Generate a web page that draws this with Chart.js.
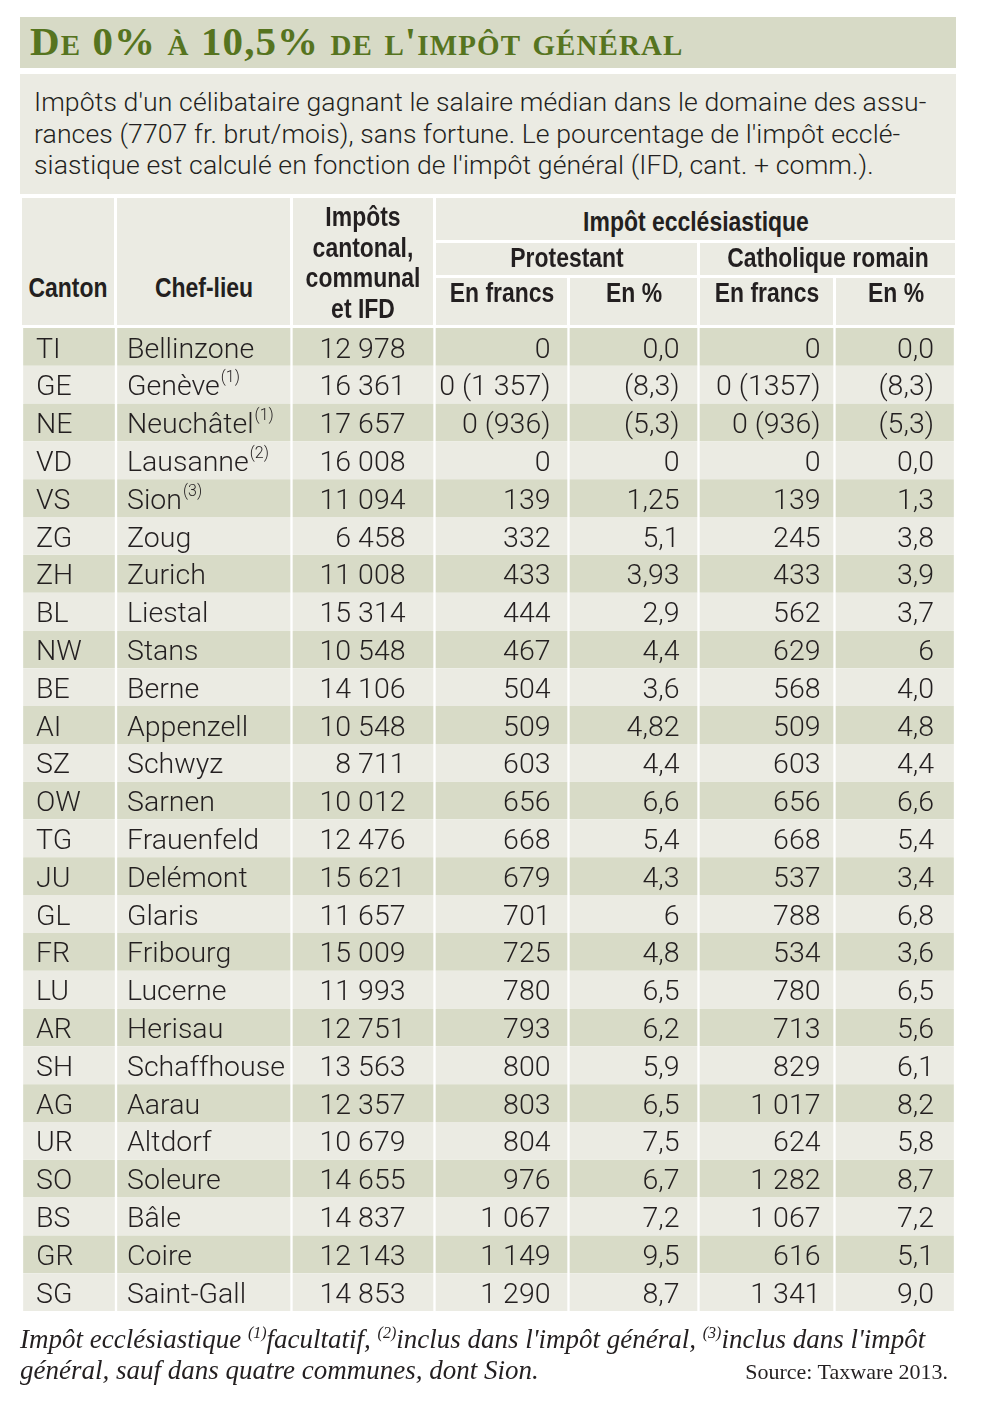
<!DOCTYPE html>
<html lang="fr">
<head>
<meta charset="utf-8">
<script src="https://cdn.jsdelivr.net/npm/chart.js@4.4.1/dist/chart.umd.min.js"></script>
<style>
  html,body{margin:0;padding:0;background:#fff;}
  body{width:1000px;height:1407px;position:relative;overflow:hidden;}
  #wrap{position:absolute;left:0;top:0;width:1000px;height:1407px;}
  canvas{position:absolute;left:0;top:0;}
  .box{position:absolute;box-sizing:border-box;}
  .title{left:20px;top:17px;width:936px;height:51px;background:#d7dac6;}
  .title span{position:absolute;left:10px;top:0px;font-family:"Liberation Serif","DejaVu Serif",serif;font-weight:bold;font-variant:small-caps;font-size:41px;color:#56741f;letter-spacing:1.1px;white-space:nowrap;}
  .desc{left:20px;top:74px;width:936px;height:120px;background:#ebebe3;}
  .desc div{position:absolute;left:14px;top:12px;font-family:Roboto,"Noto Sans",sans-serif;font-weight:300;font-size:26.6px;line-height:31.5px;color:#231f20;white-space:nowrap;letter-spacing:0.1px;}
  .h{position:absolute;box-sizing:border-box;background:#ebebe3;}
  .h span{position:absolute;left:50%;font-family:"Liberation Sans",Arial,sans-serif;font-weight:bold;font-size:27px;line-height:30.5px;color:#231f20;text-align:center;white-space:nowrap;transform:translate(-50%,-50%) scaleX(0.85);}
  .foot{position:absolute;left:20px;top:1324px;font-family:"Liberation Serif","DejaVu Serif",serif;font-style:italic;font-size:27px;line-height:31px;color:#231f20;white-space:nowrap;}
  .foot sup{font-size:16px;vertical-align:10px;line-height:0;}
  .src{position:absolute;right:52px;top:1359px;font-family:"Liberation Serif","DejaVu Serif",serif;font-size:22px;color:#231f20;white-space:nowrap;}
</style>
</head>
<body>
<div id="wrap">
  <canvas id="c" width="1000" height="1407"></canvas>
  <div class="box title"><span>De 0% à 10,5% de l'impôt général</span></div>
  <div class="box desc"><div>Impôts d'un célibataire gagnant le salaire médian dans le domaine des assu-<br>rances (7707 fr. brut/mois), sans fortune. Le pourcentage de l'impôt ecclé-<br>siastique est calculé en fonction de l'impôt général (IFD, cant. + comm.).</div></div>

  <div class="h" style="left:22px;top:198px;width:92px;height:127px;"><span style="top:90px;">Canton</span></div>
  <div class="h" style="left:117px;top:198px;width:173px;height:127px;"><span style="top:90px;">Chef-lieu</span></div>
  <div class="h" style="left:293px;top:198px;width:140px;height:127px;"><span style="top:65px;">Impôts<br>cantonal,<br>communal<br>et IFD</span></div>
  <div class="h" style="left:436px;top:198px;width:519px;height:42px;"><span style="top:24px;">Impôt ecclésiastique</span></div>
  <div class="h" style="left:436px;top:243px;width:261px;height:32px;"><span style="top:15px;">Protestant</span></div>
  <div class="h" style="left:700px;top:243px;width:255px;height:32px;"><span style="top:15px;">Catholique romain</span></div>
  <div class="h" style="left:436px;top:278px;width:131px;height:47px;"><span style="top:15px;">En francs</span></div>
  <div class="h" style="left:570px;top:278px;width:127px;height:47px;"><span style="top:15px;">En %</span></div>
  <div class="h" style="left:700px;top:278px;width:133px;height:47px;"><span style="top:15px;">En francs</span></div>
  <div class="h" style="left:836px;top:278px;width:119px;height:47px;"><span style="top:15px;">En %</span></div>

  <div class="foot">Impôt ecclésiastique <sup>(1)</sup>facultatif, <sup>(2)</sup>inclus dans l'impôt général, <sup>(3)</sup>inclus dans l'impôt<br>général, sauf dans quatre communes, dont Sion.</div>
  <div class="src">Source: Taxware 2013.</div>
</div>
<script>
// ---- DATA ----
const cantons = ["TI","GE","NE","VD","VS","ZG","ZH","BL","NW","BE","AI","SZ","OW","TG","JU","GL","FR","LU","AR","SH","AG","UR","SO","BS","GR","SG"];
const chefLieux = ["Bellinzone","Genève","Neuchâtel","Lausanne","Sion","Zoug","Zurich","Liestal","Stans","Berne","Appenzell","Schwyz","Sarnen","Frauenfeld","Delémont","Glaris","Fribourg","Lucerne","Herisau","Schaffhouse","Aarau","Altdorf","Soleure","Bâle","Coire","Saint-Gall"];
const notes = ["","(1)","(1)","(2)","(3)","","","","","","","","","","","","","","","","","","","","",""];
const impotsGeneral = ["12 978","16 361","17 657","16 008","11 094","6 458","11 008","15 314","10 548","14 106","10 548","8 711","10 012","12 476","15 621","11 657","15 009","11 993","12 751","13 563","12 357","10 679","14 655","14 837","12 143","14 853"];
const protFrancs = ["0","0 (1 357)","0 (936)","0","139","332","433","444","467","504","509","603","656","668","679","701","725","780","793","800","803","804","976","1 067","1 149","1 290"];
const protPct = ["0,0","(8,3)","(5,3)","0","1,25","5,1","3,93","2,9","4,4","3,6","4,82","4,4","6,6","5,4","4,3","6","4,8","6,5","6,2","5,9","6,5","7,5","6,7","7,2","9,5","8,7"];
const cathFrancs = ["0","0 (1357)","0 (936)","0","139","245","433","562","629","568","509","603","656","668","537","788","534","780","713","829","1 017","624","1 282","1 067","616","1 341"];
const cathPct = ["0,0","(8,3)","(5,3)","0,0","1,3","3,8","3,9","3,7","6","4,0","4,8","4,4","6,6","5,4","3,4","6,8","3,6","6,5","5,6","6,1","8,2","5,8","8,7","7,2","5,1","9,0"];

// ---- LAYOUT (column widths in table units, text alignment) ----
const columns = [
  {values: cantons,       width: 94,    align: "left",  pad: 14},
  {values: chefLieux,     width: 175.5, align: "left",  pad: 11, notes: notes},
  {values: impotsGeneral, width: 143,   align: "right", pad: 29},
  {values: protFrancs,    width: 134,   align: "right", pad: 18},
  {values: protPct,       width: 130,   align: "right", pad: 19},
  {values: cathFrancs,    width: 136,   align: "right", pad: 14},
  {values: cathPct,       width: 120.5, align: "right", pad: 21}
];
const darkRow = "#d8dbc7", lightRow = "#ebebe3";
const bodyFont = '300 28.5px Roboto, "Noto Sans", sans-serif';
const noteFont = '300 16px Roboto, "Noto Sans", sans-serif';

const datasets = columns.map((col, ci) => ({
  label: "col" + ci,
  data: cantons.map(() => col.width),
  backgroundColor: cantons.map((_, i) => i % 2 === 0 ? darkRow : lightRow),
  borderColor: "#ffffff",
  borderWidth: {left: 1.5, right: 1.5, top: 0, bottom: 0},
  borderSkipped: false,
  barPercentage: 1,
  categoryPercentage: 1
}));

const cellText = {
  id: "cellText",
  afterDatasetsDraw(chart) {
    const ctx = chart.ctx;
    ctx.save();
    ctx.fillStyle = "#231f20";
    ctx.textBaseline = "middle";
    columns.forEach((col, ci) => {
      const meta = chart.getDatasetMeta(ci);
      meta.data.forEach((bar, ri) => {
        const p = bar.getProps(["x", "y", "base"], true);
        const left = Math.min(p.x, p.base), right = Math.max(p.x, p.base);
        const txt = col.values[ri];
        const y = p.y + 3.5;
        ctx.font = bodyFont;
        if (col.align === "left") {
          ctx.textAlign = "left";
          ctx.fillText(txt, left + col.pad, y);
          if (col.notes && col.notes[ri]) {
            const w = ctx.measureText(txt).width;
            ctx.font = noteFont;
            ctx.fillText(col.notes[ri], left + col.pad + w + 1, y - 10);
          }
        } else {
          ctx.textAlign = "right";
          ctx.fillText(txt, right - col.pad, y);
        }
      });
    });
    ctx.restore();
  }
};

new Chart(document.getElementById("c"), {
  type: "bar",
  data: {labels: cantons, datasets: datasets},
  options: {
    indexAxis: "y",
    responsive: false,
    animation: false,
    layout: {padding: {top: 328, bottom: 96, left: 0, right: 0}},
    plugins: {legend: {display: false}, tooltip: {enabled: false}, title: {display: false}},
    scales: {
      x: {type: "linear", stacked: true, min: -22, max: 978, display: false},
      y: {type: "category", stacked: true, display: false, offset: true}
    }
  },
  plugins: [cellText]
});
</script>
</body>
</html>
